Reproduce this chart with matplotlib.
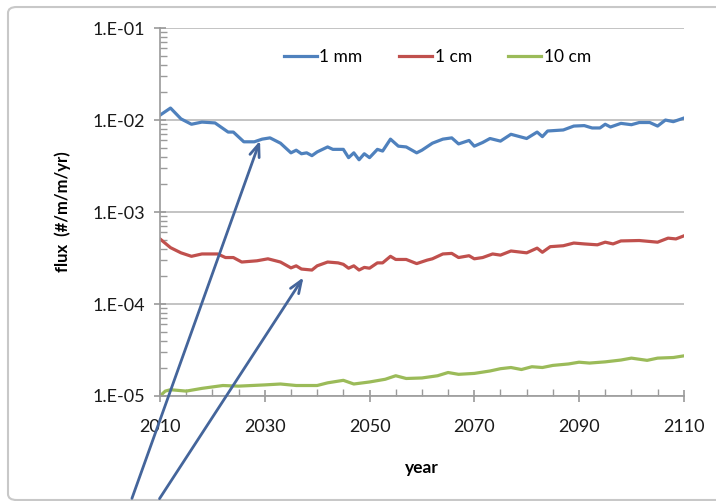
import matplotlib.pyplot as plt
from matplotlib.ticker import LogLocator, FixedLocator
from matplotlib.patches import FancyBboxPatch

plt.rcParams['font.family'] = ['Lato', 'DejaVu Sans']

# values
yrs_mm = [2010, 2012, 2014, 2016, 2018, 2020.5, 2023, 2024, 2026, 2028, 2029.5, 2031,
          2033, 2035, 2036, 2037, 2038, 2039, 2040, 2042, 2043, 2045, 2046, 2047, 2048,
          2049, 2050, 2051.5, 2052.5, 2054, 2055.5, 2057, 2059, 2060, 2062, 2064, 2065.7,
          2067, 2069, 2070, 2071.6, 2073, 2075, 2077, 2080, 2082, 2083, 2084, 2087, 2089,
          2091, 2092.5, 2094, 2095, 2096, 2098, 2100, 2101.5, 2103.5, 2105, 2106.5, 2108, 2110]
flux_mm = [0.0113, 0.0135, 0.0103, 0.0090, 0.0095, 0.0093, 0.0074, 0.0074, 0.0058, 0.0058,
           0.0062, 0.0064, 0.0056, 0.0044, 0.0047, 0.0043, 0.0044, 0.0041, 0.0045, 0.0051,
           0.0048, 0.0048, 0.0039, 0.0044, 0.0037, 0.0043, 0.0039, 0.0048, 0.0046, 0.0062,
           0.0052, 0.0051, 0.0044, 0.0047, 0.0056, 0.0062, 0.0064, 0.0055, 0.0060, 0.0052,
           0.0057, 0.0063, 0.0059, 0.0070, 0.0063, 0.0074, 0.0066, 0.0076, 0.0078, 0.0086,
           0.0087, 0.0082, 0.0082, 0.0090, 0.0084, 0.0092, 0.0089, 0.0094, 0.0094, 0.0086,
           0.0100, 0.0096, 0.0105]

yrs_cm = [2010, 2012, 2014, 2016, 2018, 2021, 2022.5, 2024, 2025.6, 2028.5, 2030.6, 2033,
          2035, 2036, 2037, 2039, 2040, 2042, 2044, 2045, 2046, 2047, 2048, 2049, 2050,
          2051.5, 2052.5, 2054, 2055, 2057, 2059, 2061, 2062, 2064, 2065.7, 2067, 2069,
          2070, 2071.6, 2073.5, 2075, 2077, 2080, 2082, 2083, 2084.5, 2087, 2089, 2091,
          2093.5, 2095, 2096.5, 2098, 2101.5, 2105, 2107, 2108.5, 2110]
flux_cm = [5.1e-4, 4.1e-4, 3.6e-4, 3.3e-4, 3.5e-4, 3.5e-4, 3.2e-4, 3.2e-4, 2.86e-4, 2.95e-4,
           3.1e-4, 2.86e-4, 2.47e-4, 2.6e-4, 2.4e-4, 2.34e-4, 2.6e-4, 2.86e-4, 2.8e-4,
           2.7e-4, 2.45e-4, 2.6e-4, 2.34e-4, 2.5e-4, 2.45e-4, 2.8e-4, 2.8e-4, 3.3e-4,
           3.05e-4, 3.05e-4, 2.75e-4, 3.0e-4, 3.1e-4, 3.5e-4, 3.55e-4, 3.2e-4, 3.35e-4,
           3.1e-4, 3.2e-4, 3.5e-4, 3.4e-4, 3.77e-4, 3.6e-4, 4.05e-4, 3.65e-4, 4.2e-4,
           4.3e-4, 4.6e-4, 4.5e-4, 4.4e-4, 4.7e-4, 4.5e-4, 4.85e-4, 4.9e-4, 4.7e-4,
           5.2e-4, 5.1e-4, 5.5e-4]

yrs_10cm = [2010, 2011, 2012, 2015, 2018, 2022, 2025, 2030, 2033, 2036, 2040, 2042, 2045,
            2047, 2050, 2053, 2055, 2057, 2060, 2063, 2065, 2067, 2070, 2073, 2075, 2077,
            2079, 2081, 2083, 2085, 2088, 2090, 2092, 2095, 2098, 2100, 2103, 2105, 2108, 2110]
flux_10cm = [1.0e-5, 1.13e-5, 1.17e-5, 1.13e-5, 1.21e-5, 1.30e-5, 1.28e-5, 1.32e-5, 1.35e-5,
             1.30e-5, 1.30e-5, 1.39e-5, 1.48e-5, 1.35e-5, 1.42e-5, 1.52e-5, 1.66e-5, 1.55e-5,
             1.57e-5, 1.66e-5, 1.80e-5, 1.72e-5, 1.76e-5, 1.87e-5, 1.98e-5, 2.04e-5, 1.94e-5,
             2.08e-5, 2.04e-5, 2.15e-5, 2.23e-5, 2.33e-5, 2.28e-5, 2.35e-5, 2.46e-5, 2.58e-5,
             2.44e-5, 2.58e-5, 2.62e-5, 2.73e-5]

xticks = [2010, 2030, 2050, 2070, 2090, 2110]
ytick_labels = ['1.E-05', '1.E-04', '1.E-03', '1.E-02', '1.E-01']

fig = plt.figure(figsize=(7.16, 5.01), dpi=100)
ax = fig.add_axes([0.2235, 0.2096, 0.7315, 0.7344])

# outer frame
fig.patches.append(FancyBboxPatch((8 / 716, 0.002), 1.2, 0.984, boxstyle='round,pad=0,rounding_size=0.012',
                                  transform=fig.transFigure, fill=False, ec='#c8c8c8', lw=1.5, zorder=-5))

ax.plot(yrs_mm, flux_mm, color='#4F81BD', lw=2.3, label='1 mm')
ax.plot(yrs_cm, flux_cm, color='#C0504D', lw=2.3, label='1 cm')
ax.plot(yrs_10cm, flux_10cm, color='#9BBB59', lw=2.3, label='10 cm')

ax.set_yscale('log')
ax.set_ylim(1e-5, 1e-1)
ax.set_xlim(2010, 2110)
ax.yaxis.set_major_locator(FixedLocator([1e-5, 1e-4, 1e-3, 1e-2, 1e-1]))
ax.set_yticklabels(ytick_labels)
ax.yaxis.set_minor_locator(LogLocator(base=10, subs=range(2, 10), numticks=20))
ax.yaxis.set_minor_formatter(plt.NullFormatter())
ax.xaxis.set_major_locator(FixedLocator(xticks))
ax.set_xticklabels([str(x) for x in xticks])
ax.xaxis.set_minor_locator(FixedLocator(list(range(2010, 2111, 5))))

ax.grid(axis='y', which='major', color='#b9b9b9', lw=1.2)
for s in ['top', 'right']:
    ax.spines[s].set_visible(False)
for s in ['left', 'bottom']:
    ax.spines[s].set_color('#9a9a9a')
    ax.spines[s].set_linewidth(1.2)
ax.tick_params(which='major', direction='inout', length=9, color='#9a9a9a', width=1.2,
               labelsize=13, labelcolor='#1a1a1a', pad=6)
ax.tick_params(which='minor', direction='in', length=5, color='#9a9a9a', width=1)
ax.tick_params(axis='x', pad=12)

ax.set_xlabel('year', fontsize=12.5, fontweight='bold', labelpad=18)
ax.set_ylabel('flux  (#/m/m/yr)', fontsize=12, fontweight='bold', labelpad=16)

ax.legend(loc='upper center', bbox_to_anchor=(0.53, 0.985), ncol=3, frameon=False,
          fontsize=12.5, handlelength=1.9, handletextpad=0.15, columnspacing=2.1)

# arrows pointing at the curves
ax.annotate('', xy=(261, 501 - 138), xycoords='figure pixels', xytext=(131, 0),
            textcoords='figure pixels',
            arrowprops=dict(arrowstyle='->,head_length=0.9,head_width=0.35', color='#44659B', lw=2),
            annotation_clip=False)
ax.annotate('', xy=(305, 501 - 275), xycoords='figure pixels', xytext=(158, 0),
            textcoords='figure pixels',
            arrowprops=dict(arrowstyle='->,head_length=0.9,head_width=0.35', color='#44659B', lw=2),
            annotation_clip=False)

fig.savefig('out.png', dpi=100)
